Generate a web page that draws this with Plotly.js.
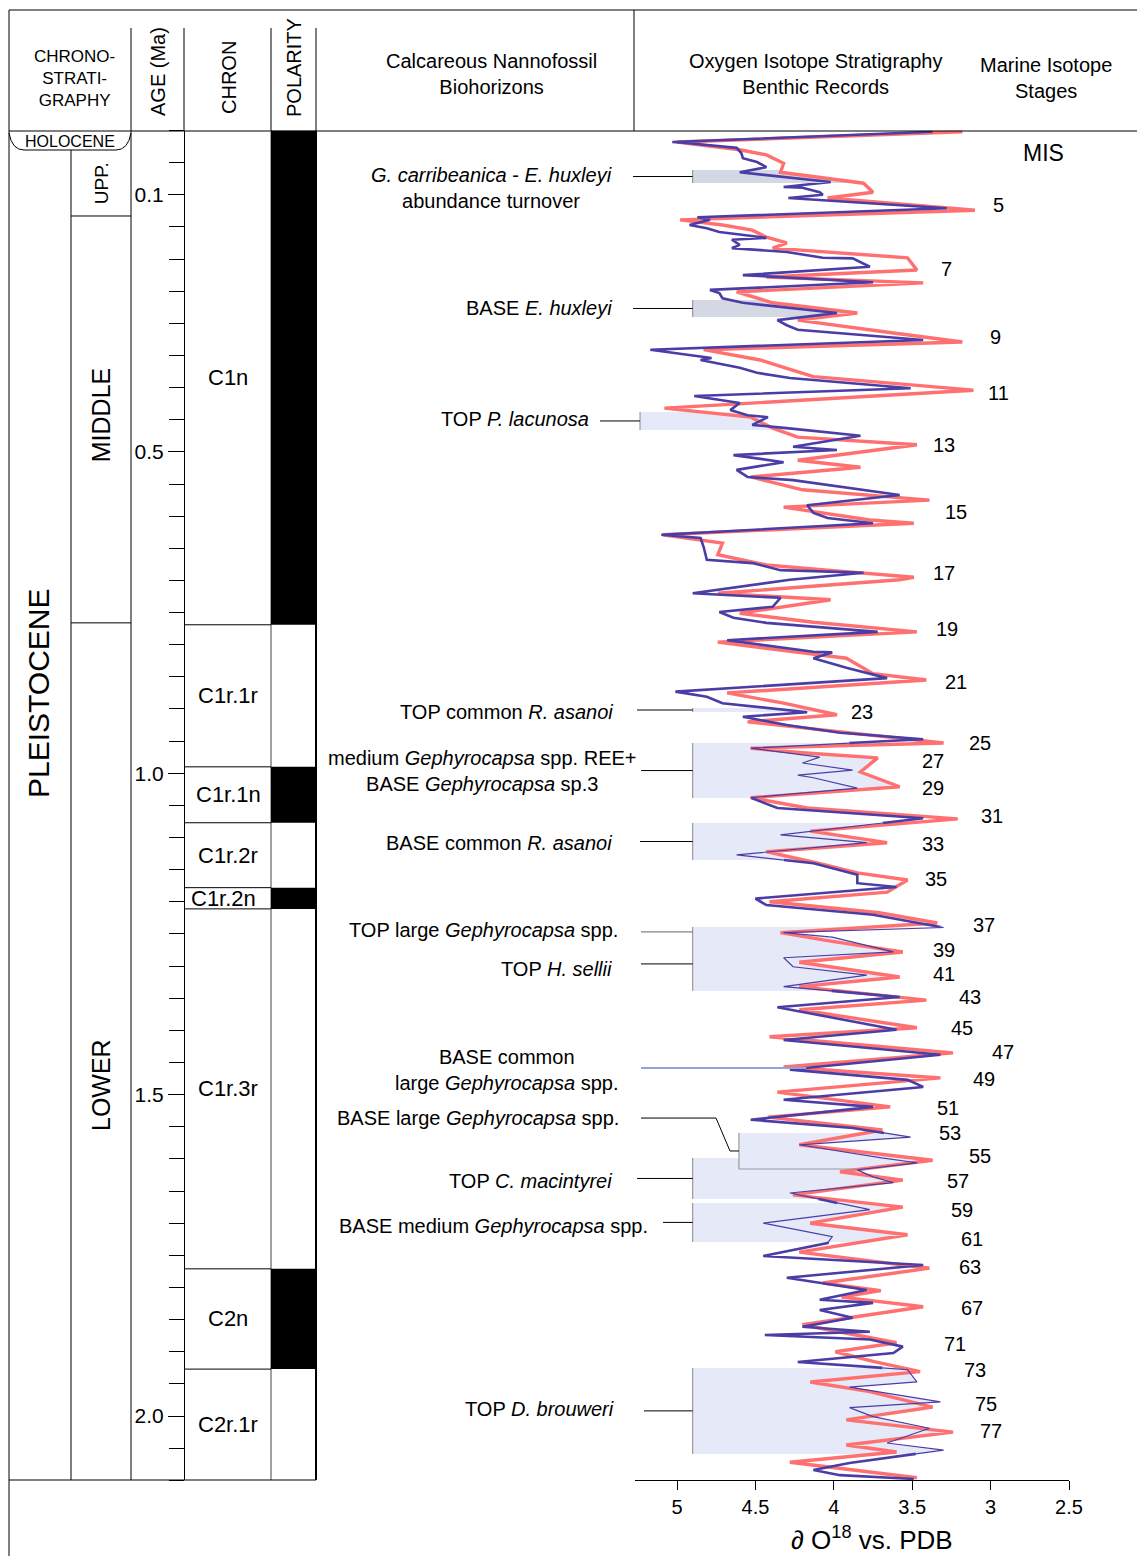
<!DOCTYPE html>
<html><head><meta charset="utf-8">
<script src="https://cdn.plot.ly/plotly-3.0.1.min.js"></script>
<style>body{margin:0;background:#fff}#chart{width:1137px;height:1556px}</style>
</head><body><div id="chart"></div>
<script>
// ---------------- DATA ----------------
const blueAge = [0.002,0.018,0.019,0.027,0.035,0.043,0.049,0.057,0.065,0.080,
0.088,0.089,0.096,0.100,0.105,0.121,0.135,0.139,0.147,0.152,
0.158,0.167,0.170,0.178,0.183,0.189,0.198,0.199,0.212,0.225,
0.236,0.243,0.248,0.253,0.261,0.268,0.284,0.295,0.303,0.310,
0.326,0.341,0.352,0.354,0.357,0.369,0.377,0.385,0.401,0.413,
0.424,0.435,0.443,0.446,0.458,0.463,0.475,0.492,0.497,0.505,
0.516,0.528,0.539,0.544,0.567,0.583,0.595,0.603,0.611,0.629,
0.634,0.648,0.668,0.673,0.684,0.688,0.699,0.720,0.727,0.741,
0.749,0.758,0.766,0.780,0.793,0.811,0.812,0.821,0.836,0.844,
0.852,0.873,0.881,0.891,0.905,0.912,0.925,0.937,0.947,0.961,
0.975,0.984,0.995,1.003,1.007,1.023,1.038,1.054,1.070,1.096,
1.108,1.127,1.140,1.158,1.171,1.177,1.195,1.205,1.220,1.240,
1.248,1.255,1.278,1.287,1.301,1.314,1.332,1.348,1.364,1.399,
1.415,1.438,1.461,1.477,1.488,1.508,1.519,1.539,1.552,1.566,
1.578,1.594,1.606,1.617,1.628,1.637,1.653,1.679,1.700,1.721,
1.731,1.751,1.765,1.785,1.804,1.819,1.824,1.835,1.847,1.861,
1.869,1.874,1.881,1.892,1.902,1.916,1.924,1.928,1.947,1.955,
1.978,1.987,2.001,2.019,2.042,2.053,2.073,2.084,2.092,2.098];
const blueD18O = [3.37,5.03,4.96,4.62,4.59,4.58,4.49,4.43,4.60,4.02,
4.32,4.20,4.09,4.07,4.29,3.28,4.87,4.79,4.92,4.81,
4.73,4.43,4.65,4.60,4.65,4.30,4.07,3.88,3.77,4.58,
3.75,4.39,4.79,4.73,4.71,4.58,3.98,4.36,4.30,4.23,
3.43,5.17,4.85,4.78,4.85,4.60,4.49,4.28,3.51,4.89,
4.60,4.66,4.55,4.42,4.52,4.30,3.83,4.26,3.98,4.64,
4.32,4.62,4.55,4.26,3.58,4.17,4.13,4.04,3.75,5.10,
4.85,4.83,4.81,4.52,4.34,3.81,4.28,4.90,4.34,4.39,
4.73,4.64,4.43,3.72,4.68,4.13,4.01,4.13,3.92,3.79,
3.66,5.01,4.81,4.71,4.17,4.58,4.30,3.96,3.43,4.53,
4.09,4.20,3.88,4.23,4.13,3.85,4.53,4.36,3.43,4.34,
3.79,4.62,4.13,3.85,3.85,3.60,4.50,4.43,3.75,3.30,
4.32,4.01,3.62,4.32,4.26,3.79,4.32,3.58,4.36,3.60,
4.32,3.32,4.28,3.53,3.43,4.32,3.75,4.53,3.88,3.51,
4.22,3.83,3.47,3.85,3.75,3.62,4.28,3.77,4.45,4.01,
4.04,4.45,3.43,4.30,3.79,4.09,3.75,4.09,3.88,4.20,
3.77,4.44,3.77,3.56,3.62,4.23,3.75,3.53,3.47,3.90,
3.32,3.90,3.75,3.39,3.66,3.30,3.90,4.13,3.96,3.49];

const redAge = [0.002,0.018,0.030,0.038,0.051,0.065,0.082,0.096,0.105,0.124,
0.139,0.147,0.155,0.166,0.175,0.183,0.198,0.217,0.228,0.237,
0.251,0.268,0.284,0.295,0.315,0.329,0.341,0.357,0.370,0.383,
0.404,0.432,0.446,0.463,0.477,0.489,0.513,0.524,0.539,0.559,
0.575,0.586,0.606,0.611,0.629,0.642,0.660,0.676,0.684,0.695,
0.699,0.720,0.730,0.751,0.765,0.780,0.796,0.821,0.845,0.855,
0.875,0.891,0.909,0.920,0.953,0.961,0.968,0.976,0.998,1.021,
1.038,1.054,1.071,1.090,1.108,1.122,1.140,1.155,1.166,1.185,
1.200,1.217,1.233,1.248,1.262,1.278,1.294,1.317,1.332,1.353,
1.368,1.396,1.410,1.435,1.457,1.474,1.496,1.519,1.535,1.555,
1.578,1.590,1.602,1.620,1.633,1.656,1.675,1.700,1.718,1.745,
1.770,1.793,1.805,1.815,1.830,1.858,1.886,1.900,1.915,1.931,
1.947,1.962,1.986,2.006,2.025,2.045,2.056,2.072,2.096];
const redD18O = [3.18,5.00,4.60,4.43,4.32,4.34,3.81,3.75,4.04,3.10,
4.98,4.71,4.52,4.43,4.30,4.39,3.53,3.47,4.43,3.43,
4.62,4.39,3.85,4.23,3.62,3.18,4.83,4.47,4.30,4.13,
3.11,5.08,4.53,4.39,4.23,3.47,4.23,3.83,4.53,4.20,
3.39,4.32,3.77,3.49,5.09,4.71,4.74,4.43,4.04,3.49,
3.58,4.74,4.02,4.60,4.13,3.47,4.74,3.92,3.75,3.41,
4.68,4.32,3.98,4.55,3.30,4.53,4.20,3.72,3.83,3.58,
4.53,4.17,3.21,4.15,3.66,4.43,4.10,3.85,3.53,3.66,
4.41,3.71,3.34,4.34,4.00,3.56,4.22,3.58,4.22,3.41,
4.22,3.47,4.41,3.24,4.32,3.32,4.36,3.64,4.42,3.69,
4.22,3.80,3.37,3.96,3.56,4.26,3.56,4.15,3.53,4.22,
3.39,4.07,3.70,3.95,3.43,4.20,3.60,3.99,3.75,3.45,
4.15,3.77,3.37,3.92,3.24,3.92,3.60,4.28,3.47];

// Magnetostratigraphy (Ma)
const chronNames  = ['C1n','C1r.1r','C1r.1n','C1r.2r','C1r.2n','C1r.3r','C2n','C2r.1r'];
const chronTop    = [0.000,0.769,0.990,1.077,1.178,1.211,1.771,1.927];
const chronBase   = [0.769,0.990,1.077,1.178,1.211,1.771,1.927,2.100];
const chronNormal = [true,false,true,false,true,false,true,false];

// Chronostratigraphy
const subepochNames    = ['UPP.','MIDDLE','LOWER'];
const subepochTop      = [0.030,0.133,0.766];
const subepochBase     = [0.133,0.766,2.100];
const subepochLabelAge = [0.082,0.443,1.485];

// Nannofossil biohorizon intervals (Ma) and left limit (d18O)
const bandTop  = [0.0615,0.2637,0.4379,0.8985,0.9530,1.0774,1.2391,1.2546,1.5596,1.5985,1.6685,1.9251];
const bandBase = [0.0817,0.2901,0.4659,0.9047,1.0386,1.1350,1.2546,1.3386,1.6157,1.6623,1.7291,2.0589];
const bandLeft = [4.90,4.90,5.236,4.90,4.90,4.90,4.90,4.90,4.605,4.90,4.90,4.90];
const baseCommonLargeGephAge = 1.4585;

// Marine isotope stages
const misLabels = ['5','7','9','11','13','15','17','19','21','23','25','27','29','31','33','35','37','39','41','43','45','47','49','51','53','55','57','59','61','63','67','71','73','75','77'];
const misAge = [0.116,0.216,0.321,0.408,0.489,0.594,0.688,0.776,0.858,0.905,0.953,0.981,1.023,1.067,1.110,1.165,1.236,1.275,1.312,1.348,1.396,1.434,1.476,1.521,1.560,1.595,1.634,1.679,1.725,1.768,1.832,1.888,1.928,1.981,2.023];
const misX = [2.95,3.28,2.97,2.95,3.30,3.22,3.30,3.28,3.22,3.82,3.07,3.37,3.37,2.99,3.37,3.35,3.04,3.30,3.30,3.13,3.18,2.92,3.04,3.27,3.26,3.07,3.21,3.18,3.12,3.13,3.12,3.23,3.10,3.03,3.00];

const xTickVals = [5,4.5,4,3.5,3,2.5];
const xTickText = ['5','4.5','4','3.5','3','2.5'];
const ageTickVals = [0.1,0.5,1.0,1.5,2.0];
const ageTickText = ['0.1','0.5','1.0','1.5','2.0'];

// ---------------- LAYOUT HELPERS ----------------
const W=1137,H=1556;
const FONT='"Liberation Sans", Arial, Helvetica, sans-serif';
const X=p=>p/W, Y=p=>1-p/H;
const XDOM=[X(635),X(1069)], XRANGE=[5.268,2.5];
const YDOM=[Y(1480.3),Y(130.5)], YRANGE=[2.1,0];
const xToPaper=v=>XDOM[0]+(v-XRANGE[0])/(XRANGE[1]-XRANGE[0])*(XDOM[1]-XDOM[0]);
const yToPaper=a=>YDOM[0]+(a-YRANGE[0])/(YRANGE[1]-YRANGE[0])*(YDOM[1]-YDOM[0]);

const shapes=[], annotations=[], traces=[];
function seg(x0,y0,x1,y1,color='#000',w=1){shapes.push({type:'line',xref:'paper',yref:'paper',x0:X(x0),y0:Y(y0),x1:X(x1),y1:Y(y1),line:{color:color,width:w}});}
function segAge(x0,a0,x1,a1,color='#000',w=1){shapes.push({type:'line',xref:'paper',yref:'y',x0:X(x0),y0:a0,x1:X(x1),y1:a1,line:{color:color,width:w}});}
function txt(text,x,y,size,opts){annotations.push(Object.assign({text:text,xref:'paper',yref:'paper',x:X(x),y:Y(y),showarrow:false,font:{family:FONT,size:size,color:'#000'},xanchor:'center',yanchor:'middle',align:'center'},opts||{}));}
function interp(ages,vals,a){for(let i=1;i<ages.length;i++){if(ages[i]>=a&&ages[i-1]<=a){const t=ages[i]===ages[i-1]?0:(a-ages[i-1])/(ages[i]-ages[i-1]);return vals[i-1]+t*(vals[i]-vals[i-1]);}}return vals[vals.length-1];}

// ---------------- FRAME ----------------
seg(9,10,1137,10); seg(9,10,9,1556); seg(9,131,1137,131); seg(634,10,634,131);
[131,184,271,316].forEach(x=>seg(x,28,x,131));
seg(71,150,71,1480); seg(131,131,131,1480); seg(271,131,271,1480,'#444',1);
seg(316,131,316,1480,'#000',2); seg(9,1480,316,1480);
shapes.push({type:'path',xref:'paper',yref:'paper',line:{color:'#000',width:1},
  path:`M ${X(9)},${Y(133)} Q ${X(12)},${Y(150)} ${X(24)},${Y(150)} L ${X(116)},${Y(150)} Q ${X(128)},${Y(150)} ${X(131)},${Y(133)}`});

// header texts
txt('CHRONO-<br>STRATI-<br>GRAPHY',74,79,17);
txt('AGE (Ma)',158,72,20,{textangle:-90});
txt('CHRON',229,78,20,{textangle:-90});
txt('POLARITY',294,68,20,{textangle:-90});
txt('Calcareous Nannofossil<br>Biohorizons',491,74,20);
txt('Oxygen Isotope Stratigraphy<br>Benthic Records',815,74,20);
txt('Marine Isotope<br>Stages',1046,78,20);
txt('HOLOCENE',70,142,16);
txt('PLEISTOCENE',39,693,30,{textangle:-90});
txt('MIS',1043,153,23);
txt('∂ O<sup>18</sup> vs. PDB',872,1538,26);

// subepochs
subepochNames.forEach((n,i)=>{
  if(i<subepochNames.length-1) segAge(71,subepochBase[i],131,subepochBase[i]);
  annotations.push({text:n,xref:'paper',yref:'y',x:X(101),y:subepochLabelAge[i],xanchor:'center',yanchor:'middle',showarrow:false,textangle:-90,font:{family:FONT,size:i===0?19:25,color:'#000'}});
});

// chrons & polarity
chronNames.forEach((n,i)=>{
  if(chronTop[i]>0) segAge(184,chronTop[i],271,chronTop[i]);
  if(chronNormal[i]) shapes.push({type:'rect',xref:'paper',yref:'y',x0:X(271),x1:X(316),y0:chronTop[i],y1:chronBase[i],fillcolor:'#000',line:{width:0}});
  annotations.push({text:n,xref:'paper',yref:'y',x:X(n==='C1r.2n'?223:228),y:(chronTop[i]+chronBase[i])/2,xanchor:'center',yanchor:'middle',showarrow:false,font:{family:FONT,size:22,color:'#000'}});
});

// ---------------- BANDS ----------------
const bandColor = bandTop.map((t,i)=>i<2?'#d4d7e4':'#e6e9f8');
bandTop.forEach((t,k)=>{
  [[blueAge,blueD18O],[redAge,redD18O]].forEach(([ag,vl])=>{
    const xs=[bandLeft[k],interp(ag,vl,t)], ys=[t,t];
    for(let i=0;i<ag.length;i++){if(ag[i]>t&&ag[i]<bandBase[k]){xs.push(vl[i]);ys.push(ag[i]);}}
    xs.push(interp(ag,vl,bandBase[k]),bandLeft[k]); ys.push(bandBase[k],bandBase[k]);
    traces.push({x:xs,y:ys,mode:'lines',fill:'toself',fillcolor:bandColor[k],line:{width:0},hoverinfo:'skip',type:'scatter'});
  });
  shapes.push({type:'line',xref:'x',yref:'y',x0:bandLeft[k],x1:bandLeft[k],y0:bandTop[k],y1:bandBase[k],line:{color:'#8a8a8a',width:1}});
});
shapes.push({type:'line',xref:'x',yref:'y',x0:bandLeft[8],x1:3.85,y0:bandBase[8],y1:bandBase[8],line:{color:'#9a9a9a',width:1}});

// curve split (thin inside selected bands)
const thinBlue=[false,false,false,false,true,true,true,true,true,true,true,true];
function splitCurve(ages,vals,thinMask){
  const bounds=[];bandTop.forEach((t,k)=>{if(thinMask[k])bounds.push(t,bandBase[k]);});
  const inside=a=>bandTop.some((t,k)=>thinMask[k]&&a>t&&a<bandBase[k]);
  const A=[ages[0]],V=[vals[0]];
  for(let i=1;i<ages.length;i++){
    const a0=ages[i-1],a1=ages[i],v0=vals[i-1],v1=vals[i];
    bounds.filter(b=>b>a0&&b<a1).sort((p,q)=>p-q).forEach(b=>{A.push(b);V.push(v0+(v1-v0)*(b-a0)/(a1-a0));});
    A.push(a1);V.push(v1);
  }
  const thick={x:[],y:[]},thin={x:[],y:[]};let cur=null;
  for(let i=1;i<A.length;i++){
    const t=inside((A[i-1]+A[i])/2)?thin:thick;
    if(t!==cur){if(cur){cur.x.push(null);cur.y.push(null);}t.x.push(V[i-1]);t.y.push(A[i-1]);cur=t;}
    t.x.push(V[i]);t.y.push(A[i]);
  }
  return {thick,thin};
}

const RED='#ff7070', BLUE='#4a3ea6';
traces.push({x:redD18O,y:redAge,mode:'lines',line:{color:RED,width:3.4},hoverinfo:'skip',type:'scatter'});
const bs=splitCurve(blueAge,blueD18O,thinBlue);
traces.push({x:bs.thick.x,y:bs.thick.y,mode:'lines',line:{color:BLUE,width:2.6},hoverinfo:'skip',type:'scatter',connectgaps:false});
traces.push({x:bs.thin.x,y:bs.thin.y,mode:'lines',line:{color:BLUE,width:1.2},hoverinfo:'skip',type:'scatter',connectgaps:false});

// ---------------- BIOHORIZON LABELS & LEADERS ----------------
const leaderStart=[633,633,600,637,641,640,641,641,null,637,663,644];
bandTop.forEach((t,k)=>{
  if(leaderStart[k]===null) return;
  const m=(t+bandBase[k])/2;
  shapes.push({type:'line',xref:'paper',yref:'y',x0:X(leaderStart[k]),x1:xToPaper(bandLeft[k]),y0:m,y1:m,line:{color:k===6?'#666':'#000',width:1}});
});
{
  const a1=1.5364, a2=(bandTop[8]+bandBase[8])/2;
  shapes.push({type:'path',xref:'paper',yref:'paper',line:{color:'#000',width:1},
    path:`M ${X(641)},${yToPaper(a1)} L ${X(716)},${yToPaper(a1)} L ${X(730)},${yToPaper(a2)} L ${xToPaper(bandLeft[8])},${yToPaper(a2)}`});
}
shapes.push({type:'line',xref:'paper',yref:'y',x0:X(641),x1:xToPaper(interp(blueAge,blueD18O,baseCommonLargeGephAge)),y0:baseCommonLargeGephAge,y1:baseCommonLargeGephAge,line:{color:'#8ea2dc',width:2}});

txt('<i>G. carribeanica</i> - <i>E. huxleyi</i><br>abundance turnover',491,188,20);
txt('BASE <i>E. huxleyi</i>',614,308,20,{xanchor:'right'});
txt('TOP <i>P. lacunosa</i>',591,419,20,{xanchor:'right'});
txt('TOP common <i>R. asanoi</i>',615,712,20,{xanchor:'right'});
txt('medium <i>Gephyrocapsa</i> spp. REE+<br>BASE <i>Gephyrocapsa</i> sp.3',482,771,20);
txt('BASE common <i>R. asanoi</i>',614,843,20,{xanchor:'right'});
txt('TOP large <i>Gephyrocapsa</i> spp.',620,930,20,{xanchor:'right'});
txt('TOP <i>H. sellii</i>',614,969,20,{xanchor:'right'});
txt('BASE common<br>large <i>Gephyrocapsa</i> spp.',506,1070,20);
txt('BASE large <i>Gephyrocapsa</i> spp.',621,1118,20,{xanchor:'right'});
txt('TOP <i>C. macintyrei</i>',614,1181,20,{xanchor:'right'});
txt('BASE medium <i>Gephyrocapsa</i> spp.',650,1226,20,{xanchor:'right'});
txt('TOP <i>D. brouweri</i>',616,1409,20,{xanchor:'right'});

misLabels.forEach((l,i)=>annotations.push({text:l,xref:'x',yref:'y',x:misX[i],y:misAge[i],xanchor:'center',yanchor:'middle',showarrow:false,font:{family:FONT,size:20,color:'#000'}}));

// ---------------- PLOT ----------------
const layout={
  width:W,height:H,margin:{l:0,r:0,t:0,b:0,pad:0},paper_bgcolor:'#fff',plot_bgcolor:'rgba(0,0,0,0)',
  showlegend:false,font:{family:FONT,color:'#000'},hovermode:false,
  xaxis:{domain:XDOM,range:XRANGE,anchor:'y',showgrid:false,zeroline:false,showline:true,linecolor:'#000',linewidth:1,
    ticks:'outside',ticklen:9,tickcolor:'#000',tickmode:'array',tickvals:xTickVals,ticktext:xTickText,tickfont:{family:FONT,size:20,color:'#000'}},
  yaxis:{domain:YDOM,range:YRANGE,anchor:'free',position:X(184),side:'left',showgrid:false,zeroline:false,
    showline:true,linecolor:'#000',linewidth:1,ticks:'outside',ticklen:16,tickcolor:'#000',tickmode:'array',tickvals:ageTickVals,ticktext:ageTickText,
    tickfont:{family:FONT,size:21,color:'#000'},
    minor:{tickmode:'linear',tick0:0,dtick:0.05,ticks:'outside',ticklen:15,tickcolor:'#000',showgrid:false}},
  shapes:shapes,annotations:annotations
};
Plotly.newPlot('chart',traces,layout,{staticPlot:true,displayModeBar:false});
</script>
</body></html>
